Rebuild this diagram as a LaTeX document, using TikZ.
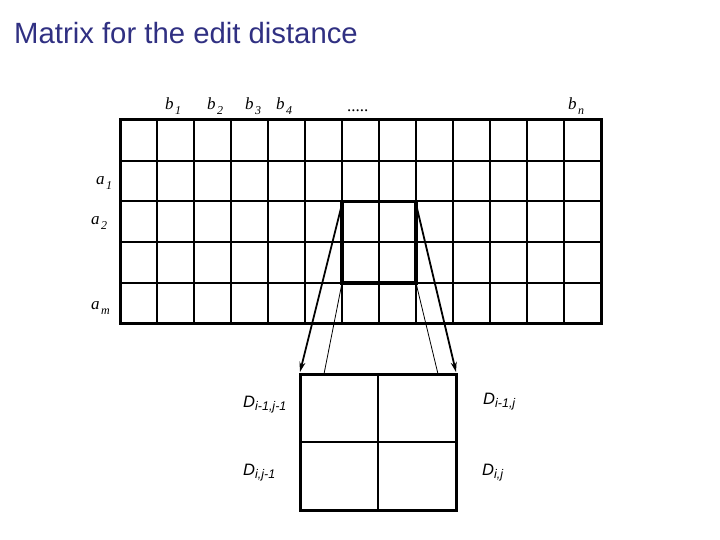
\documentclass[tikz,border=0pt]{standalone}
\usepackage{fontspec}
\setmainfont{Liberation Serif}
\setsansfont{Liberation Sans}
\usetikzlibrary{arrows.meta}
\definecolor{titleblue}{RGB}{48,48,130}
\newcommand{\ilab}[2]{\textit{#1}\hspace{1.5pt}\raisebox{-5pt}{\fontsize{12}{12}\selectfont\textit{#2}}}
\newcommand{\dlab}[2]{\textit{#1}\raisebox{-3pt}{\fontsize{12.5}{12.5}\selectfont\textit{#2}}}
\begin{document}
\begin{tikzpicture}[x=1pt,y=-1pt,
  gridline/.style={line width=2pt},
  frameline/.style={line width=3pt},
  hilite/.style={line width=3.5pt},
  bigarrow/.style={line width=1.8pt,-{Stealth[length=10pt,width=6pt]}},
  thinline/.style={line width=0.8pt},
  collab/.style={anchor=base west,inner sep=0pt,font=\fontsize{17}{17}\selectfont\rmfamily},
  dtext/.style={anchor=base west,inner sep=0pt,font=\fontsize{16.5}{16.5}\selectfont\sffamily},
  titletext/.style={anchor=base west,inner sep=0pt,font=\fontsize{29.3}{29.3}\selectfont\sffamily,text=titleblue}]
\useasboundingbox (0,0) rectangle (720,540);
% title
\node[titletext] (title) at (14,43.5) {Matrix for the edit distance};
% grid
\foreach \k in {1,...,12} \draw[gridline] (120+37*\k,120) -- (120+37*\k,323.5);
\foreach \r in {1,...,4} \draw[gridline] (120,120+40.7*\r) -- (601,120+40.7*\r);
\draw[frameline] (120,120) rectangle (601,323.5);
% highlighted 2x2 block
\draw[hilite] (342,201.4) rectangle (416,282.8);
\coordinate (htl) at (342,204);
\coordinate (htr) at (416,204);
\coordinate (hbl) at (342,283);
\coordinate (hbr) at (416,283);
% column labels
\node[collab] (b1) at (165,110) {\ilab{b}{1}};
\node[collab] (b2) at (207,110) {\ilab{b}{2}};
\node[collab] (b3) at (245,110) {\ilab{b}{3}};
\node[collab] (b4) at (276,110) {\ilab{b}{4}};
\node[collab] (dots) at (347,112) {.....};
\node[collab] (bn) at (568,110) {\ilab{b}{n}};
% row labels
\node[collab] (a1) at (96,185) {\ilab{a}{1}};
\node[collab] (a2) at (91,225) {\ilab{a}{2}};
\node[collab] (am) at (91,309) {\ilab{a}{m}};
% enlarged block
\draw[gridline] (378,374) -- (378,510);
\draw[gridline] (300,442) -- (456,442);
\draw[frameline] (300,374) rectangle (456,510);
\coordinate (btl) at (300,372);
\coordinate (btr) at (456,372);
\coordinate (bl2) at (324,374);
\coordinate (br2) at (438,374);
% connectors
\draw[bigarrow] (htl) -- (btl);
\draw[bigarrow] (htr) -- (btr);
\draw[thinline] (hbl) -- (bl2);
\draw[thinline] (hbr) -- (br2);
% D labels
\node[dtext] (d11) at (243,407.5) {\dlab{D}{i-1,j-1}};
\node[dtext] (d10) at (483,404) {\dlab{D}{i-1,j}};
\node[dtext] (d01) at (243,475) {\dlab{D}{i,j-1}};
\node[dtext] (d00) at (482,475) {\dlab{D}{i,j}};
\end{tikzpicture}
\end{document}
